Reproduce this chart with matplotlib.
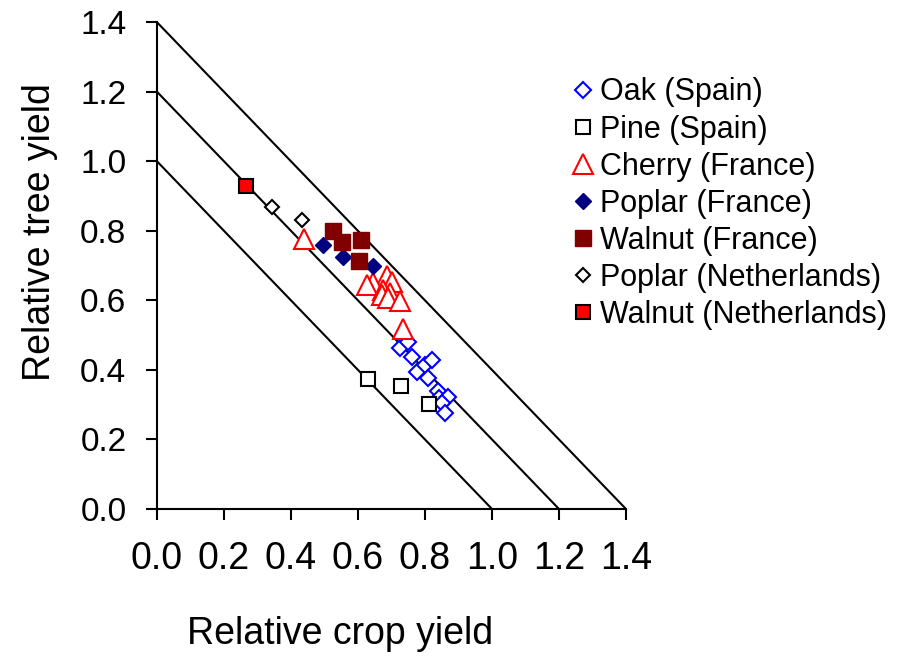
import matplotlib.pyplot as plt
from matplotlib.ticker import MultipleLocator

plt.rcParams['font.family'] = ['Liberation Sans', 'DejaVu Sans']

# relative crop yield (x) and relative tree yield (y) per series
oak_es_x = [0.725, 0.750, 0.762, 0.775, 0.800, 0.820, 0.810, 0.840, 0.843, 0.870, 0.850, 0.860]
oak_es_y = [0.462, 0.481, 0.438, 0.395, 0.414, 0.429, 0.376, 0.338, 0.318, 0.323, 0.304, 0.275]

pine_es_x = [0.631, 0.728, 0.813]
pine_es_y = [0.374, 0.354, 0.301]

cherry_fr_x = [0.439, 0.686, 0.646, 0.626, 0.701, 0.676, 0.696, 0.671, 0.689, 0.725, 0.735]
cherry_fr_y = [0.776, 0.671, 0.650, 0.645, 0.654, 0.630, 0.621, 0.616, 0.607, 0.597, 0.518]

poplar_fr_x = [0.497, 0.556, 0.646]
poplar_fr_y = [0.760, 0.726, 0.700]

walnut_fr_x = [0.524, 0.553, 0.609, 0.603]
walnut_fr_y = [0.800, 0.767, 0.774, 0.714]

poplar_nl_x = [0.344, 0.434]
poplar_nl_y = [0.868, 0.832]

walnut_nl_x = [0.266]
walnut_nl_y = [0.929]

ler_levels = [1.0, 1.2, 1.4]

fig = plt.figure(figsize=(9.08, 6.56), dpi=100)
ax = fig.add_axes([0.1729, 0.2241, 0.5165, 0.742])

for c in ler_levels:
    ax.plot([0, c], [c, 0], color="black", lw=1.5, zorder=1)

ax.plot(oak_es_x, oak_es_y, ls="none", marker="D", ms=8, mfc="white",
        mec="blue", mew=1.5, label="Oak (Spain)")
ax.plot(pine_es_x, pine_es_y, ls="none", marker="s", ms=10.5, mfc="white",
        mec="black", mew=1.5, label="Pine (Spain)")
ax.plot(cherry_fr_x, cherry_fr_y, ls="none", marker="^", ms=14.5, mfc="white",
        mec="red", mew=1.5, label="Cherry (France)")
ax.plot(poplar_fr_x, poplar_fr_y, ls="none", marker="D", ms=8, mfc="#000080",
        mec="#000080", mew=1, label="Poplar (France)")
ax.plot(walnut_fr_x, walnut_fr_y, ls="none", marker="s", ms=11.5, mfc="#800000",
        mec="#800000", mew=1, label="Walnut (France)")
ax.plot(poplar_nl_x, poplar_nl_y, ls="none", marker="D", ms=7.5, mfc="white",
        mec="black", mew=1.5, label="Poplar (Netherlands)")
ax.plot(walnut_nl_x, walnut_nl_y, ls="none", marker="s", ms=10, mfc="red",
        mec="black", mew=1.5, label="Walnut (Netherlands)")

ax.set_xlim(0, 1.4)
ax.set_ylim(0, 1.4)
ax.xaxis.set_major_locator(MultipleLocator(0.2))
ax.yaxis.set_major_locator(MultipleLocator(0.2))
ax.xaxis.set_major_formatter(lambda v, p: f"{v:.1f}")
ax.yaxis.set_major_formatter(lambda v, p: f"{v:.1f}")

for s in ["top", "right"]:
    ax.spines[s].set_visible(False)
for s in ["left", "bottom"]:
    ax.spines[s].set_linewidth(1.5)
ax.tick_params(direction="out", length=8, width=1.5)
ax.tick_params(axis="x", pad=15, labelsize=27)
ax.tick_params(axis="y", pad=14, labelsize=24)

ax.set_xlabel("Relative crop yield", fontsize=27)
ax.set_ylabel("Relative tree yield", fontsize=27)
ax.xaxis.set_label_coords(0.39, -0.22)
ax.yaxis.set_label_coords(-0.211, 0.569)

fig.legend(loc="upper left", bbox_to_anchor=(0.6156, 0.9005), frameon=False,
           fontsize=22, handlelength=0.8, handletextpad=0.15,
           labelspacing=0.23, borderaxespad=0)

fig.savefig("out.png", dpi=100)
